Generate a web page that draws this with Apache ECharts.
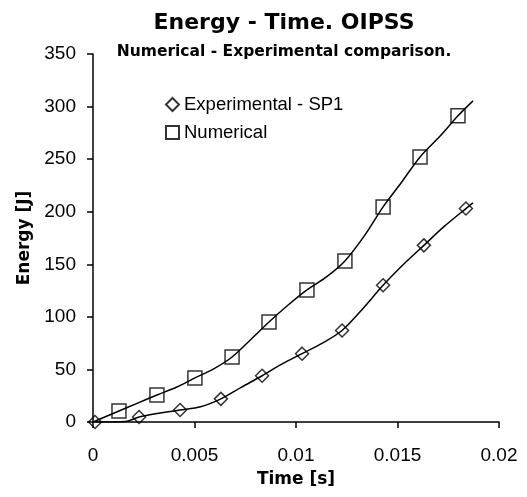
<!DOCTYPE html>
<html>
<head>
<meta charset="utf-8">
<script src="https://cdn.jsdelivr.net/npm/echarts@6/dist/echarts.min.js"></script>
<style>
  html, body { margin: 0; padding: 0; background: #fff; }
  #main { width: 527px; height: 497px; }
</style>
</head>
<body>
<div id="main"></div>
<script>
// marker points [time s, energy J]
var expMarkers = [
  [0.0001, 0], [0.00227, 4.8], [0.00429, 11.4], [0.0063, 22], [0.00833, 44],
  [0.0103, 65], [0.01227, 87], [0.01429, 130], [0.0163, 168], [0.01837, 203]
]
var numMarkers = [
  [0.00128, 10.5], [0.00315, 25.7], [0.00502, 41.9], [0.00685, 61.8], [0.00867, 95.1],
  [0.01054, 125.6], [0.01241, 153.2], [0.01429, 204.6], [0.01611, 252.1], [0.01798, 291.2]
]
// curve traces
var expCurve = [
  [0, 0], [0.0016, 0.5], [0.00227, 4.8], [0.0033, 8.5], [0.00429, 11.4], [0.0053, 14.5],
  [0.0063, 22], [0.0073, 33], [0.00833, 44], [0.0093, 55], [0.0103, 65], [0.0113, 75],
  [0.01227, 87], [0.0133, 108], [0.01429, 130], [0.0153, 150], [0.0163, 168],
  [0.0173, 186], [0.01837, 203], [0.01872, 208.4]
]
var numCurve = [
  [0, 0], [0.00128, 10.5], [0.0022, 18], [0.00315, 25.7], [0.0041, 33], [0.00502, 41.9],
  [0.0059, 50], [0.00685, 61.8], [0.0078, 79], [0.00867, 95.1], [0.0096, 111],
  [0.01054, 125.6], [0.0115, 138], [0.01241, 153.2], [0.0134, 178], [0.01429, 204.6],
  [0.0152, 228], [0.01611, 252.1], [0.0171, 272], [0.01798, 291.2], [0.01872, 305.4]
]
var xTicks = { min: 0, max: 0.02, interval: 0.005 }
var yTicks = { min: 0, max: 350, interval: 50 }

var chart = echarts.init(document.getElementById('main'))

var axisCommon = {
  axisLine: { show: true, lineStyle: { color: '#000', width: 1.5 } },
  axisTick: { show: true, inside: false, length: 6, lineStyle: { color: '#000', width: 1.5 } },
  axisLabel: { color: '#000', fontFamily: 'Liberation Sans', fontSize: 19 },
  splitLine: { show: false },
  nameLocation: 'middle',
  nameTextStyle: { color: '#000', fontFamily: 'DejaVu Sans', fontWeight: 'bold', fontSize: 17 }
}

var option = {
  animation: false,
  backgroundColor: '#fff',
  title: [
    {
      text: 'Energy - Time. OIPSS',
      left: 279, top: 7, textAlign: 'center',
      textStyle: { fontFamily: 'DejaVu Sans', fontWeight: 'bold', fontSize: 22, color: '#000' }
    },
    {
      text: 'Numerical - Experimental comparison.',
      left: 279, top: 39, textAlign: 'center',
      textStyle: { fontFamily: 'DejaVu Sans', fontWeight: 'bold', fontSize: 15.5, color: '#000' }
    }
  ],
  legend: {
    orient: 'vertical',
    left: 160, top: 90,
    itemGap: 9,
    itemWidth: 13, itemHeight: 13,
    textStyle: { fontFamily: 'Liberation Sans', fontSize: 18.5, color: '#000', padding: [0, 0, 0, 0] },
    data: ['Experimental - SP1', 'Numerical']
  },
  grid: { left: 93, right: 28, top: 54, bottom: 75, containLabel: false },
  xAxis: Object.assign({}, axisCommon, {
    type: 'value',
    min: xTicks.min, max: xTicks.max, interval: xTicks.interval,
    name: 'Time [s]', nameGap: 49,
    axisLabel: Object.assign({}, axisCommon.axisLabel, { margin: 24 })
  }),
  yAxis: Object.assign({}, axisCommon, {
    type: 'value',
    min: yTicks.min, max: yTicks.max, interval: yTicks.interval,
    name: 'Energy [J]', nameGap: 60,
    axisLabel: Object.assign({}, axisCommon.axisLabel, { margin: 17 })
  }),
  series: [
    {
      name: 'expCurve', type: 'line', data: expCurve, smooth: 0.3,
      showSymbol: false, lineStyle: { color: '#000', width: 1.5 }, z: 2
    },
    {
      name: 'numCurve', type: 'line', data: numCurve, smooth: 0.3,
      showSymbol: false, lineStyle: { color: '#000', width: 1.5 }, z: 2
    },
    {
      name: 'Experimental - SP1', type: 'scatter', data: expMarkers,
      symbol: 'diamond', symbolSize: 13,
      itemStyle: { color: 'rgba(0,0,0,0)', borderColor: '#000', borderWidth: 1.5 }, z: 3
    },
    {
      name: 'Numerical', type: 'scatter', data: numMarkers,
      symbol: 'rect', symbolSize: 14,
      itemStyle: { color: 'rgba(0,0,0,0)', borderColor: '#000', borderWidth: 1.5 }, z: 3
    }
  ]
}

chart.setOption(option)
</script>
</body>
</html>
